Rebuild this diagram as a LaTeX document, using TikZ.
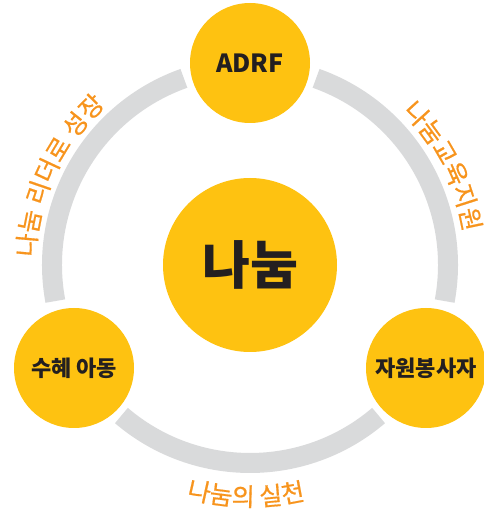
\documentclass[tikz,border=0pt]{standalone}
\usepackage{fontspec}
\newfontfamily\cjk{Noto Sans CJK KR}
\newfontfamily\cjkmid{Noto Sans CJK KR}[FakeBold=0.6]
\usetikzlibrary{calc,decorations.text}
\definecolor{nanumyellow}{HTML}{FEC211}
\definecolor{nanumdark}{HTML}{231F20}
\definecolor{nanumorange}{HTML}{F7941D}
\definecolor{ringgray}{HTML}{D9DADB}
\newcommand\arcfont{\cjkmid\fontsize{25}{25}\selectfont}
\begin{document}
\begin{tikzpicture}[x=1pt, y=1pt,
    hub/.style={circle, fill=nanumyellow, text=nanumdark, inner sep=0pt, minimum size=120pt,
      font=\cjk\bfseries\fontsize{22}{22}\selectfont},
    core/.style={hub, minimum size=174pt, font=\cjk\bfseries\fontsize{52}{52}\selectfont},
    ring/.style={draw=ringgray, line width=20pt},
    arctext/.style={decorate, decoration={text along path, text align=center, text color=nanumorange, text={|\arcfont|#1}}}]
\useasboundingbox (0,0) rectangle (484,512);
\coordinate (c) at (250,247);

% grey ring, broken at the three outer circles
\draw[ring] ($(c)+(109.5:198)$) arc[start angle=109.5, end angle=190.5, radius=198];
\draw[ring] ($(c)+(229.5:198)$) arc[start angle=229.5, end angle=310.5, radius=198];
\draw[ring] ($(c)+(-10.5:198)$) arc[start angle=-10.5, end angle=70.5, radius=198];

% circles
\node[core] (nanum) at (c) {나눔};
\node[hub, font=\cjk\bfseries\fontsize{25}{25}\selectfont] (adrf) at (250,449) {ADRF};
\node[hub] (child) at (74,144) {수혜 아동};
\node[hub] (volunteer) at (426,144) {자원봉사자};

% labels along the ring
\path[arctext={나눔 리더로 성장}] ($(c)+(180:215)$) arc[start angle=180, end angle=130, radius=215];
\path[arctext={나눔교육지원}] ($(c)+(50:216)$) arc[start angle=50, end angle=4, radius=216];
\path[arctext={나눔의 실천}] ($(c)+(245:241)$) arc[start angle=245, end angle=293, radius=241];
\end{tikzpicture}
\end{document}
